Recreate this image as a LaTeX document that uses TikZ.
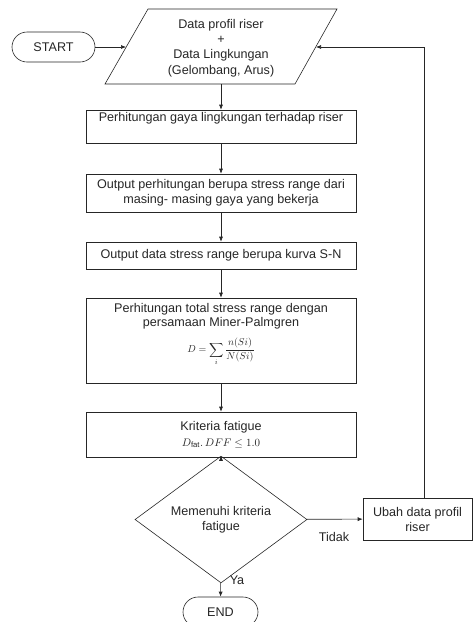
\documentclass[tikz,border=0pt]{standalone}
\usepackage{fontspec}
\setmainfont{Liberation Sans}
\usetikzlibrary{shapes.geometric,arrows.meta}
\begin{document}
\begin{tikzpicture}[x=1pt,y=-1pt,
  every node/.style={font=\fontsize{12.6}{15}\selectfont, inner sep=0pt, align=center, text=black!85},
  ln/.style={line width=0.6pt, draw=black!85},
  box/.style={ln, rectangle, minimum width=270pt},
  term/.style={ln, rectangle, rounded corners=15pt},
  arr/.style={ln, -{Latex[length=5pt,width=4pt]}},
  lbl/.style={font=\fontsize{12.6}{15}\selectfont}]
\useasboundingbox (0,0) rectangle (473,622);
% start
\node[term, minimum width=83pt, minimum height=30pt] (start) at (53.5,47) {START};
% parallelogram
\draw[ln] (148,9) -- (337,9) -- (295,84) -- (105,84) -- cycle;
\node[font=\fontsize{12.6}{15.3}\selectfont] (data) at (221,48) {Data profil riser\\+\\Data Lingkungan\\(Gelombang, Arus)};
\coordinate (dL) at (126,47);
\coordinate (dR) at (316,47);
\coordinate (dB) at (221,84);
% boxes
\node[box, minimum height=33pt] (b1) at (221,126.5) {Perhitungan gaya lingkungan terhadap riser\\ \strut};
\node[box, minimum height=38pt] (b2) at (221,193) {Output perhitungan berupa stress range dari\\masing- masing gaya yang bekerja};
\node[box, minimum height=27pt] (b3) at (221,255.5) {Output data stress range berupa kurva S-N};
\node[box, minimum height=85pt] (b4) at (221,340.5) {};
\node[font=\fontsize{12.6}{14}\selectfont] (b4t) at (221,316.5) {Perhitungan total stress range dengan\\persamaan Miner-Palmgren};
\node[font=\fontsize{10}{12}\selectfont] (b4f) at (221,352) {$\displaystyle D=\sum_{i}\frac{n(Si)}{N(Si)}$};
\node[box, minimum height=45pt] (b5) at (221,434.5) {Kriteria fatigue\\[1pt]{\fontsize{11}{13}\selectfont$D_{\mathrm{fat}}.\,DFF\leq 1.0$}};
% decision
\node[ln, diamond, minimum width=172pt, minimum height=85pt] (dec) at (221,519.5) {Memenuhi kriteria\\fatigue};
\node[ln, rectangle, minimum width=109pt, minimum height=42pt] (ubah) at (417.5,519) {Ubah data profil\\riser};
\node[term, minimum width=75pt, minimum height=30pt] (end) at (220.5,612) {END};
\coordinate (corner) at (424,47);
% connectors
\draw[arr] (start) -- (dL);
\draw[arr] (dB) -- (b1);
\draw[arr] (b1) -- (b2);
\draw[arr] (b2) -- (b3);
\draw[arr] (b3) -- (b4);
\draw[arr] (b4) -- (b5);
\draw[arr] (b5) -- (dec);
\draw[arr] (dec) -- (ubah);
\draw[arr] (dec) -- (end);
\draw[arr] (ubah.north -| corner) -- (corner) -- (dR);
\node[lbl] (tidak) at (334,537) {Tidak};
\node[lbl] (ya) at (237,580) {Ya};
\end{tikzpicture}
\end{document}
